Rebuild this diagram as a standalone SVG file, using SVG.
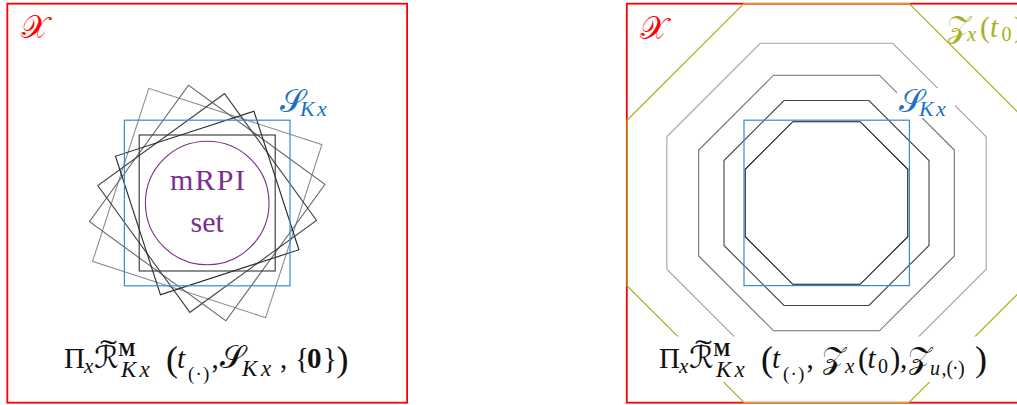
<svg xmlns="http://www.w3.org/2000/svg" width="1017" height="405" viewBox="0 0 1017 405">
<style>
.frame{fill:none;stroke:#ff0000;stroke-width:1.8}
.blue{fill:none;stroke:#3b87d5;stroke-width:1.2}
.olive{fill:none;stroke:#aab31c;stroke-width:1.2}
.sq{fill:none;stroke-width:1.1}
.oct{fill:none;stroke-width:1.1}
text{font-family:"Liberation Serif","DejaVu Serif",serif}
.scr{font-family:"DejaVu Serif","DejaVu Sans","Liberation Serif",serif}
.it{font-style:italic}
.bf{font-weight:bold}
.bg{fill:#ffffff;stroke:none}
</style>

<!-- Left panel -->
<g id="left-panel">
  <rect id="X-left" class="frame" x="7.3" y="3.7" width="399.8" height="399"/>
  <g id="rotated-squares">
    <rect class="sq" stroke="#8c8c8c" x="116.2" y="112" width="182" height="182" transform="rotate(18 207.2 203)"/>
    <rect class="sq" stroke="#6a6a6a" x="122.9" y="118.7" width="168.6" height="168.6" transform="rotate(36 207.2 203)"/>
    <rect class="sq" stroke="#454545" x="128.9" y="124.7" width="156.6" height="156.6" transform="rotate(54 207.2 203)"/>
    <rect class="sq" stroke="#2a2a2a" x="134.4" y="130.2" width="145.6" height="145.6" transform="rotate(72 207.2 203)"/>
    <rect class="sq" stroke="#333333" stroke-width="1.6" x="139.2" y="135" width="136" height="136"/>
  </g>
  <g id="S-Kx-left">
    <rect class="blue" x="124.4" y="120.2" width="165.6" height="165.6"/>
    <text x="280" y="112" font-size="32" fill="#2171c2" class="scr">𝒮</text>
    <text y="116" font-size="22" fill="#2171c2" class="it"><tspan x="300">K</tspan><tspan x="317">x</tspan></text>
  </g>
  <g id="mRPI">
    <circle cx="207.2" cy="203" r="61.8" fill="none" stroke="#7b2f8f" stroke-width="1.1"/>
    <text x="170" y="190" font-size="30" fill="#7b2f8f" textLength="75">mRPI</text>
    <text x="207.2" y="232" font-size="30" fill="#7b2f8f" text-anchor="middle">set</text>
  </g>
  <text id="X-label-left" x="21" y="38" font-size="32" fill="#ff0000" class="scr">𝒳</text>
  <g id="formula-left" fill="#111111">
    <text x="64" y="368" font-size="29">Π</text>
    <text x="84" y="373" font-size="21" class="it">x</text>
    <text x="94" y="368" font-size="31" class="scr">ℛ</text>
    <text x="100" y="359" font-size="28" textLength="17" lengthAdjust="spacingAndGlyphs">˜</text>
    <text x="118.5" y="356" font-size="18" class="bf">M</text>
    <text y="377" font-size="23" class="it"><tspan x="121">K</tspan><tspan x="139.5">x</tspan></text>
    <text x="166" y="371" font-size="36">(</text>
    <text x="177" y="368" font-size="29" class="it">t</text>
    <text y="380" font-size="19"><tspan x="188">(</tspan><tspan x="195.5">·</tspan><tspan x="203">)</tspan></text>
    <text x="211.5" y="368" font-size="29">,</text>
    <text x="220" y="368" font-size="32" class="scr">𝒮</text>
    <text y="376" font-size="23" class="it"><tspan x="242">K</tspan><tspan x="261">x</tspan></text>
    <text x="280" y="368" font-size="29">,</text>
    <text x="295" y="368" font-size="29">{</text>
    <text x="307" y="368" font-size="29" class="bf">0</text>
    <text x="323" y="368" font-size="29">}</text>
    <text x="336.5" y="371" font-size="36">)</text>
  </g>
</g>

<!-- Right panel -->
<g id="right-panel">
  <rect id="X-right" class="frame" x="626.8" y="3.7" width="400" height="399"/>
  <polygon id="Z-x-t0" class="olive" points="743.86,3.5 909.14,3.5 1026,120.36 1026,285.64 909.14,402.5 743.86,402.5 627,285.64 627,120.36"/>
  <g id="octagons">
    <polygon class="oct" stroke="#a6a6a6" points="760.35,43.3 892.65,43.3 986.2,136.85 986.2,269.15 892.65,362.7 760.35,362.7 666.8,269.15 666.8,136.85"/>
    <polygon class="oct" stroke="#707070" points="773.56,75.2 879.44,75.2 954.3,150.06 954.3,255.94 879.44,330.8 773.56,330.8 698.7,255.94 698.7,150.06"/>
    <polygon class="oct" stroke="#444444" points="784.04,100.5 868.96,100.5 929,160.54 929,245.46 868.96,305.5 784.04,305.5 724,245.46 724,160.54"/>
    <polygon class="oct" stroke="#111111" points="792.82,121.7 860.18,121.7 907.8,169.32 907.8,236.68 860.18,284.3 792.82,284.3 745.2,236.68 745.2,169.32"/>
  </g>
  <g id="S-Kx-right">
    <rect class="blue" x="744" y="120.2" width="165.4" height="165.4"/>
    <rect class="bg" x="897" y="88" width="58" height="30"/>
    <text x="899" y="112" font-size="32" fill="#2171c2" class="scr">𝒮</text>
    <text y="116" font-size="22" fill="#2171c2" class="it"><tspan x="919">K</tspan><tspan x="936">x</tspan></text>
  </g>
  <text id="X-label-right" x="640" y="39" font-size="32" fill="#ff0000" class="scr">𝒳</text>
  <g id="Z-label" fill="#a9b01e">
    <text x="947" y="37" font-size="31" class="scr">𝒵</text>
    <text x="967" y="41" font-size="21" class="it">x</text>
    <text x="980" y="37" font-size="30">(</text>
    <text x="990" y="37" font-size="29" class="it">t</text>
    <text x="1001.5" y="41" font-size="20">0</text>
    <text x="1014" y="37" font-size="30">)</text>
  </g>
  <g id="formula-right" fill="#111111">
    <rect class="bg" x="652" y="336.5" width="346" height="45.5"/>
    <text x="659" y="368" font-size="29">Π</text>
    <text x="679" y="373" font-size="21" class="it">x</text>
    <text x="689" y="368" font-size="31" class="scr">ℛ</text>
    <text x="695" y="359" font-size="28" textLength="17" lengthAdjust="spacingAndGlyphs">˜</text>
    <text x="713.5" y="356" font-size="18" class="bf">M</text>
    <text y="377" font-size="23" class="it"><tspan x="716">K</tspan><tspan x="734.5">x</tspan></text>
    <text x="761" y="371" font-size="36">(</text>
    <text x="772" y="368" font-size="29" class="it">t</text>
    <text y="380" font-size="19"><tspan x="783">(</tspan><tspan x="790.5">·</tspan><tspan x="798">)</tspan></text>
    <text x="806.5" y="368" font-size="29">,</text>
    <text x="822" y="368" font-size="31" class="scr">𝒵</text>
    <text x="845" y="373" font-size="21" class="it">x</text>
    <text x="858" y="369" font-size="31">(</text>
    <text x="867.5" y="368" font-size="29" class="it">t</text>
    <text x="878" y="373" font-size="20">0</text>
    <text x="890" y="369" font-size="31">)</text>
    <text x="900" y="368" font-size="29">,</text>
    <text x="908" y="368" font-size="31" class="scr">𝒵</text>
    <text y="375" font-size="20"><tspan x="930" class="it">u</tspan><tspan x="941.5">,</tspan><tspan x="946.5">(</tspan><tspan x="952">·</tspan><tspan x="958">)</tspan></text>
    <text x="975" y="371" font-size="36">)</text>
  </g>
</g>
</svg>
